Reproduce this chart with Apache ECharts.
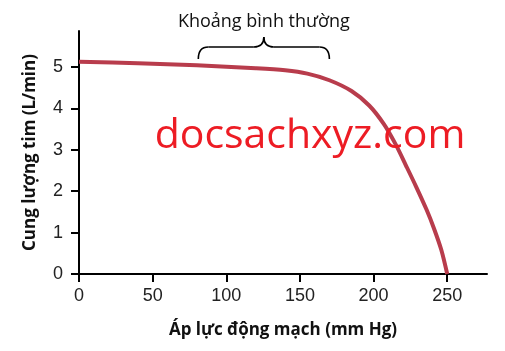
<!DOCTYPE html>
<html>
<head>
<meta charset="utf-8">
<script src="https://cdn.jsdelivr.net/npm/echarts@6/dist/echarts.min.js"></script>
<style>
  html, body { margin: 0; padding: 0; background: #fff; }
  #chart { width: 505px; height: 351px; }
</style>
</head>
<body>
<div id="chart"></div>
<script>
// arterial pressure (mm Hg) vs cardiac output (L/min)
const pressure = [0, 40, 80, 120, 140, 155, 170, 185, 197, 207, 215, 222, 229, 236, 241, 246, 250];
const cardiacOutput = [5.13, 5.09, 5.04, 4.97, 4.92, 4.84, 4.68, 4.42, 4.07, 3.62, 3.13, 2.62, 2.10, 1.55, 1.10, 0.58, 0];
const xTicks = [0, 50, 100, 150, 200, 250];
const yTicks = [0, 1, 2, 3, 4, 5];
const normalRange = [81, 170];
const normalLabel = 'Khoảng bình thường';
const watermark = 'docsachxyz.com';

const chart = echarts.init(document.getElementById('chart'));

const axisFont = { fontFamily: 'Liberation Sans', fontSize: 18, color: '#222' };
const nameFont = { fontFamily: 'Open Sans', fontSize: 17, fontWeight: 'bold', color: '#111' };

chart.setOption({
    animation: false,
    grid: { left: 79, right: 18, top: 31, bottom: 77 },
    xAxis: {
        type: 'value', min: 0, max: 277, interval: 50,
        name: 'Áp lực động mạch (mm Hg)', nameLocation: 'middle', nameGap: 48,
        nameTextStyle: nameFont,
        axisLine: { lineStyle: { color: '#000', width: 2 } },
        axisTick: { length: 8, lineStyle: { color: '#000', width: 2 }, customValues: xTicks },
        axisLabel: Object.assign({ margin: 13, customValues: xTicks }, axisFont),
        splitLine: { show: false }
    },
    yAxis: {
        type: 'value', min: 0, max: 5.87, interval: 1,
        name: 'Cung lượng tim (L/min)', nameLocation: 'middle', nameGap: 40,
        nameTextStyle: nameFont,
        axisLine: { show: true, lineStyle: { color: '#000', width: 2 } },
        axisTick: { show: true, length: 8, lineStyle: { color: '#000', width: 2 }, customValues: yTicks },
        axisLabel: Object.assign({ margin: 16, customValues: yTicks }, axisFont),
        splitLine: { show: false }
    },
    series: [{
        type: 'line',
        data: pressure.map((p, i) => [p, cardiacOutput[i]]),
        smooth: 0.3,
        showSymbol: false,
        lineStyle: { color: '#b83c4c', width: 4 }
    }]
});

// brace over the normal range, placed via the axis scale
const x1 = chart.convertToPixel({ xAxisIndex: 0 }, normalRange[0]);
const x2 = chart.convertToPixel({ xAxisIndex: 0 }, normalRange[1]);
const xm = (x1 + x2) / 2;
const yb = 59, yh = 47, yt = 37;
const braceStyle = { stroke: '#000', lineWidth: 1.6, fill: null };

function curve(sx, sy, cx, cy, ex, ey) {
    return { type: 'bezierCurve', shape: { x1: sx, y1: sy, cpx1: cx, cpy1: cy, x2: ex, y2: ey }, style: braceStyle };
}
function seg(sx, sy, ex, ey) {
    return { type: 'line', shape: { x1: sx, y1: sy, x2: ex, y2: ey }, style: braceStyle };
}

chart.setOption({
    graphic: [
        curve(x1, yb, x1, yh, x1 + 10, yh),
        seg(x1 + 10, yh, xm - 10, yh),
        curve(xm - 10, yh, xm, yh, xm, yt),
        curve(xm, yt, xm, yh, xm + 10, yh),
        seg(xm + 10, yh, x2 - 10, yh),
        curve(x2 - 10, yh, x2, yh, x2, yb),
        {
            type: 'text', x: xm, y: 22,
            style: { text: normalLabel, fontFamily: 'Open Sans', fontSize: 18, fill: '#111', align: 'center', verticalAlign: 'middle' }
        },
        {
            type: 'text', x: 310, y: 136, z: 100,
            style: { text: watermark, fontFamily: 'Open Sans', fontSize: 41, fill: '#ed1c24', align: 'center', verticalAlign: 'middle' }
        }
    ]
});
</script>
</body>
</html>
